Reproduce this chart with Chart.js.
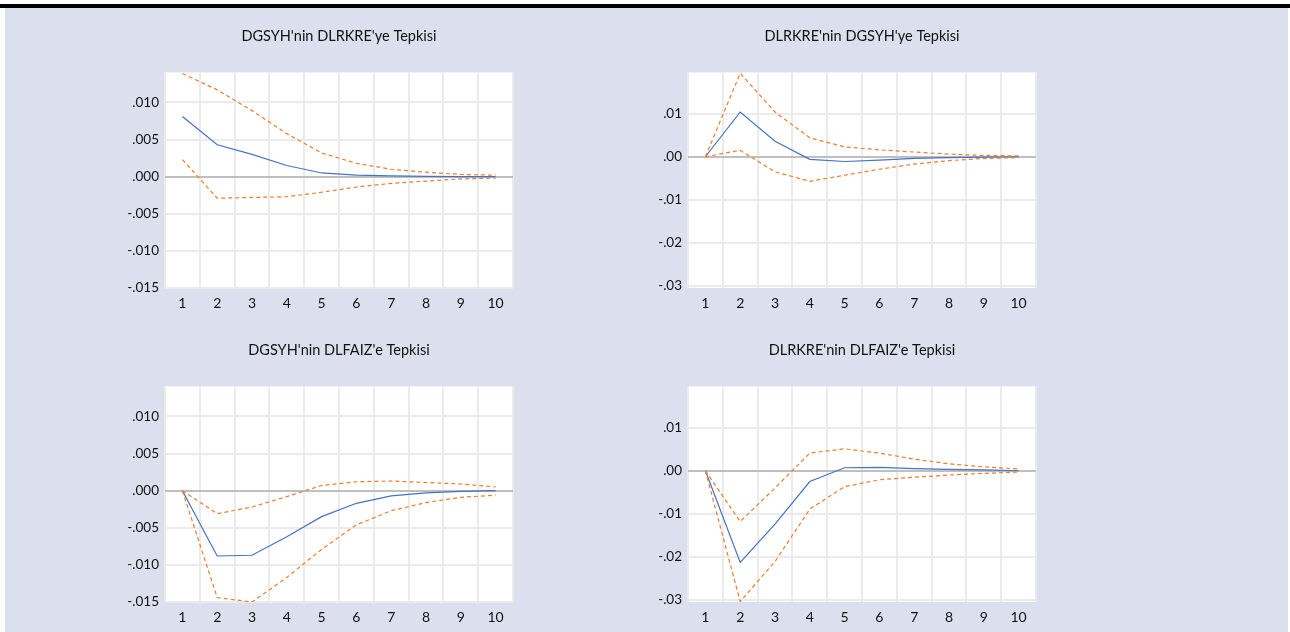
<!DOCTYPE html>
<html>
<head>
<meta charset="utf-8">
<script src="https://cdn.jsdelivr.net/npm/chart.js@4/dist/chart.umd.min.js"></script>
<style>
  body { margin: 0; width: 1290px; height: 632px; background: #fff; overflow: hidden; position: relative; }
  #topbar { position: absolute; left: 0; top: 4px; width: 1290px; height: 4px; background: #000; }
  #panel { position: absolute; left: 5px; top: 8px; width: 1283px; height: 624px; background: #dcdfee; }
  canvas { position: absolute; }
</style>
</head>
<body>
<div id="topbar"></div>
<div id="panel"></div>
<canvas id="c1" width="430" height="298" style="left:100px; top:20px;"></canvas>
<canvas id="c2" width="430" height="298" style="left:623px; top:20px;"></canvas>
<canvas id="c3" width="430" height="298" style="left:100px; top:334px;"></canvas>
<canvas id="c4" width="430" height="298" style="left:623px; top:334px;"></canvas>
<script>
const horizons = ['1', '2', '3', '4', '5', '6', '7', '8', '9', '10'];

// DGSYH'nin DLRKRE'ye Tepkisi
const p1Resp  = [0.0081, 0.0043, 0.0030, 0.0015, 0.0005, 0.0002, 0.0001, 0.00005, 0.0000, 0.0000];
const p1Upper = [0.0139, 0.0117, 0.0089, 0.0058, 0.0032, 0.0018, 0.0010, 0.0006, 0.0003, 0.0002];
const p1Lower = [0.0023, -0.0029, -0.0028, -0.0027, -0.0021, -0.0014, -0.0009, -0.0006, -0.0003, -0.0002];

// DLRKRE'nin DGSYH'ye Tepkisi
const p2Resp  = [0, 0.0104, 0.0036, -0.0006, -0.0011, -0.0008, -0.0004, -0.0002, -0.0001, 0];
const p2Upper = [0, 0.0194, 0.0104, 0.0044, 0.0023, 0.0016, 0.0011, 0.0006, 0.0003, 0.0002];
const p2Lower = [0, 0.0015, -0.0035, -0.0057, -0.0043, -0.0029, -0.0017, -0.0009, -0.0004, -0.0002];

// DGSYH'nin DLFAIZ'e Tepkisi
const p3Resp  = [0, -0.0088, -0.0087, -0.0062, -0.0035, -0.0017, -0.0007, -0.0003, -0.0001, 0];
const p3Upper = [0, -0.0031, -0.0022, -0.0008, 0.0007, 0.0012, 0.0013, 0.0011, 0.0009, 0.0005];
const p3Lower = [0, -0.0144, -0.0150, -0.0117, -0.0079, -0.0046, -0.0027, -0.0016, -0.0009, -0.0006];

// DLRKRE'nin DLFAIZ'e Tepkisi
const p4Resp  = [0, -0.0213, -0.0124, -0.0025, 0.0007, 0.0008, 0.0005, 0.0003, 0.0002, 0];
const p4Upper = [0, -0.0118, -0.0040, 0.0041, 0.0051, 0.0041, 0.0027, 0.0016, 0.0009, 0.0004];
const p4Lower = [0, -0.0304, -0.0211, -0.0089, -0.0037, -0.0021, -0.0015, -0.0010, -0.0006, -0.0003];

const titles = ["DGSYH'nin DLRKRE'ye Tepkisi", "DLRKRE'nin DGSYH'ye Tepkisi",
                "DGSYH'nin DLFAIZ'e Tepkisi", "DLRKRE'nin DLFAIZ'e Tepkisi"];

const ticksA = [-0.015, -0.010, -0.005, 0, 0.005, 0.010];
const labelsA = ['-.015', '-.010', '-.005', '.000', '.005', '.010'];
const ticksB = [-0.03, -0.02, -0.01, 0, 0.01];
const labelsB = ['-.03', '-.02', '-.01', '.00', '.01'];

const rangeA = [-0.015, 0.01405];
const rangeB = [-0.0305, 0.0196];

const FONT = 'Lato, "Open Sans", sans-serif';

// white plot background
const plotBg = {
    id: 'plotBg',
    beforeDraw(chart) {
        const a = chart.chartArea;
        const ctx = chart.ctx;
        ctx.save();
        ctx.fillStyle = '#ffffff';
        ctx.fillRect(a.left, a.top, a.right - a.left, a.bottom - a.top);
        ctx.restore();
    }
};

function makePanel(id, title, resp, upper, lower, range, tickVals, tickLabels) {
    const line = (data, color, dash) => ({
        data: data,
        borderColor: color,
        borderWidth: 1.2,
        borderDash: dash,
        pointRadius: 0,
        fill: false,
        tension: 0,
    });
    return new Chart(document.getElementById(id), {
        type: 'line',
        data: {
            labels: horizons,
            datasets: [
                line(upper, '#ed7d31', [4, 3]),
                line(lower, '#ed7d31', [4, 3]),
                line(resp, '#4472c4', []),
            ],
        },
        plugins: [plotBg],
        options: {
            responsive: false,
            animation: false,
            layout: { padding: { left: 0, right: 17, top: 0, bottom: 0 } },
            scales: {
                x: {
                    offset: true,
                    grid: { offset: true, color: '#ebebeb', lineWidth: 2, drawTicks: false },
                    border: { display: false },
                    ticks: { color: '#111', font: { family: FONT, size: 14 }, padding: 7, autoSkip: false, maxRotation: 0 },
                    afterFit: (s) => { s.height = 30; },
                },
                y: {
                    min: range[0],
                    max: range[1],
                    afterBuildTicks: (s) => { s.ticks = tickVals.map(v => ({ value: v })); },
                    grid: {
                        drawTicks: false,
                        color: (c) => (c.tick && c.tick.value === 0 ? '#bfbfbf' : '#ebebeb'),
                        lineWidth: 2,
                    },
                    border: { display: false },
                    ticks: {
                        color: '#111',
                        font: { family: FONT, size: 13.5 },
                        padding: 6,
                        callback: (v, i) => tickLabels[i],
                    },
                    afterFit: (s) => { s.width = 65; },
                },
            },
            plugins: {
                legend: { display: false },
                tooltip: { enabled: false },
                title: {
                    display: true,
                    text: title,
                    fullSize: false,
                    color: '#111',
                    font: { family: FONT, size: 14.5, weight: 'normal', lineHeight: 1.2 },
                    padding: { top: 8, bottom: 27 },
                },
            },
        },
    });
}

makePanel('c1', titles[0], p1Resp, p1Upper, p1Lower, rangeA, ticksA, labelsA);
makePanel('c2', titles[1], p2Resp, p2Upper, p2Lower, rangeB, ticksB, labelsB);
makePanel('c3', titles[2], p3Resp, p3Upper, p3Lower, rangeA, ticksA, labelsA);
makePanel('c4', titles[3], p4Resp, p4Upper, p4Lower, rangeB, ticksB, labelsB);
</script>
</body>
</html>
